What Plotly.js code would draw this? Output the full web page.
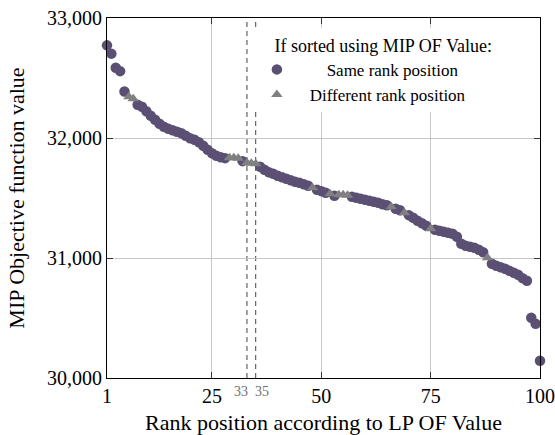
<!DOCTYPE html>
<html><head><meta charset="utf-8">
<script src="https://cdn.plot.ly/plotly-3.0.1.min.js"></script>
<style>html,body{margin:0;padding:0;background:#fff}</style>
</head><body><div id="chart" style="width:555px;height:435px"></div>
<script>
// Ranks (by LP OF value) whose MIP sort position is the same
const sameRankX = [1,2,3,4,5,8,9,10,11,12,13,14,15,16,17,18,19,20,21,22,23,24,25,26,27,28,32,36,37,38,39,40,41,42,43,44,45,46,47,49,50,51,53,57,58,59,60,61,62,63,64,65,67,68,70,71,72,73,74,76,77,78,79,80,81,82,83,84,85,86,87,89,90,91,92,93,94,95,96,97,98,99,100];
const sameRankY = [32772,32703,32586,32557,32388,32277,32261,32223,32186,32152,32119,32094,32077,32065,32052,32040,32019,31998,31986,31965,31936,31902,31873,31852,31840,31832,31807,31761,31736,31715,31702,31686,31673,31661,31648,31636,31627,31615,31602,31569,31557,31544,31519,31511,31502,31494,31486,31477,31469,31461,31448,31440,31411,31398,31357,31336,31311,31290,31269,31236,31227,31219,31211,31202,31177,31119,31102,31094,31086,31069,31048,30952,30936,30923,30911,30894,30877,30861,30832,30811,30502,30452,30144];
// Ranks whose MIP sort position differs
const diffRankX = [6,7,29,30,31,33,34,35,48,52,54,55,56,66,69,75,88];
const diffRankY = [32344,32327,31836,31836,31832,31794,31790,31786,31586,31536,31527,31527,31523,31427,31377,31244,31002];

const xTickVals = [1,25,50,75,100];
const yTickVals = [30000,31000,32000,33000];
const markedRanks = [33,35];
const xRange = [1,100];
const yRange = [30000,33000];

const FONT = "'Liberation Serif', 'Times New Roman', serif";
const NB = n => '\u00a0'.repeat(n);

const traces = [
  {x: sameRankX, y: sameRankY, type:'scatter', mode:'markers', name:NB(7)+'Same rank position',
   marker:{symbol:'circle', size:10.5, color:'#5b5074'}, cliponaxis:false},
  {x: diffRankX, y: diffRankY, type:'scatter', mode:'markers', name:NB(3)+'Different rank position',
   marker:{symbol:'triangle-up', size:10, color:'#808080'}, cliponaxis:false}
];

const shapes = markedRanks.map(r => ({type:'line', xref:'x', yref:'paper', x0:r, x1:r, y0:0, y1:1,
  line:{color:'#444', width:1, dash:'5px,4px'}, layer:'below'}));

const annotations = markedRanks.map((r,i) => ({x:r, xref:'x', y:0, yref:'paper', yanchor:'top',
  xanchor: i===0 ? 'right' : 'left', xshift: i===0 ? 3 : -3, yshift:-4, showarrow:false,
  text:String(r), font:{family:FONT, size:14, color:'#707070'}}));

const layout = {
  width:555, height:435,
  margin:{l:107, r:15, t:18, b:57},
  paper_bgcolor:'#fff', plot_bgcolor:'#fff',
  font:{family:FONT, size:18, color:'#000'},
  showlegend:true,
  legend:{x:0.33, y:0.971, xanchor:'left', yanchor:'top', bgcolor:'#fff', borderwidth:0,
    font:{family:FONT, size:17, color:'#000'}, indentation:7,
    title:{text:NB(5)+'If sorted using MIP OF Value:', font:{family:FONT, size:18, color:'#000'}}},
  xaxis:{range:xRange, tickvals:xTickVals, ticks:'inside', ticklen:6, tickcolor:'#333',
    showline:true, linecolor:'#000', linewidth:1, mirror:'ticks', showgrid:true, gridcolor:'#c8c8c8',
    zeroline:false, tickfont:{family:FONT, size:20}, automargin:false,
    title:{text:'Rank position according to LP OF Value', font:{family:FONT, size:22}, standoff:14}},
  yaxis:{range:yRange, tickvals:yTickVals, tickformat:',d', ticks:'inside', ticklen:6, tickcolor:'#333',
    showline:true, linecolor:'#000', linewidth:1, mirror:'ticks', showgrid:true, gridcolor:'#c8c8c8',
    zeroline:false, tickfont:{family:FONT, size:20}, automargin:false,
    title:{text:'MIP Objective function value', font:{family:FONT, size:22}, standoff:16}},
  shapes:shapes, annotations:annotations
};

Plotly.newPlot('chart', traces, layout, {displayModeBar:false, staticPlot:true});
</script></body></html>
